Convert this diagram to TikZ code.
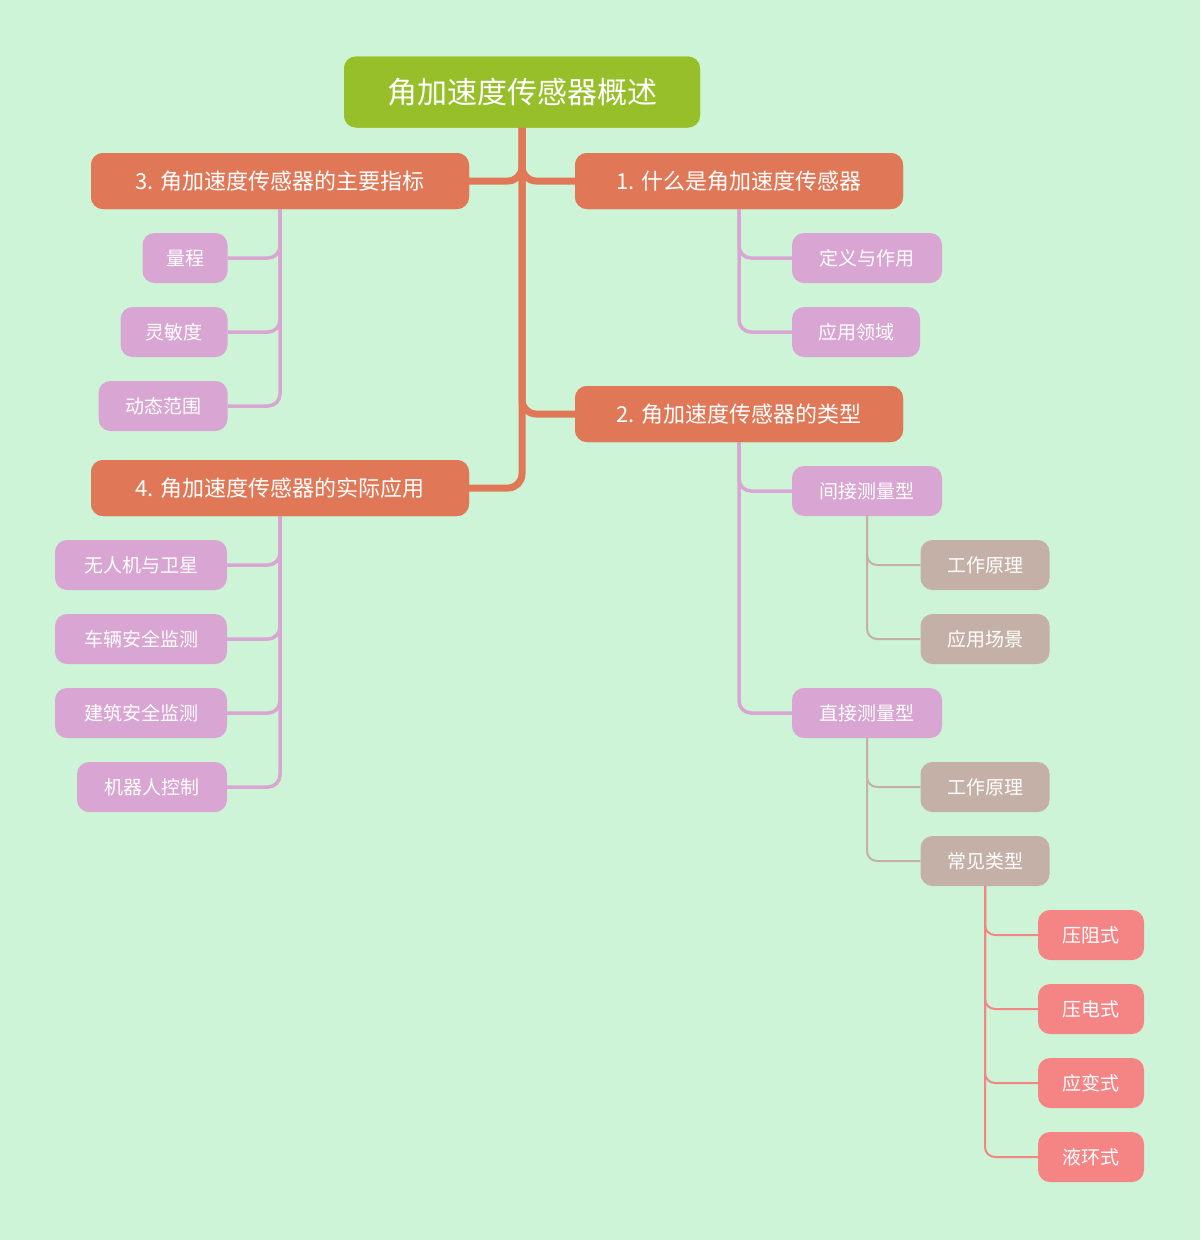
\documentclass[tikz,border=0pt]{standalone}
\usepackage{fontspec}
\setmainfont{Noto Sans CJK SC}
\begin{document}
\begin{tikzpicture}[x=1pt,y=-1pt,
 base/.style={rounded corners=12pt,text=white,inner sep=0pt,anchor=center},
 root/.style={base,fill=rootc,minimum width=356pt,minimum height=71pt,font=\fontsize{30}{32}\selectfont},
 l1/.style={base,fill=l1c,minimum height=56pt,font=\fontsize{22}{24}\selectfont},
 l2/.style={base,fill=l2c,minimum height=50pt,font=\fontsize{19}{21}\selectfont},
 l3/.style={base,fill=l3c,minimum width=129pt,minimum height=50pt,font=\fontsize{19}{21}\selectfont},
 l4/.style={base,fill=l4c,minimum width=106pt,minimum height=50pt,font=\fontsize{19}{21}\selectfont},
 e1/.style={draw=l1c,line width=7pt,rounded corners=14pt},
 e2/.style={draw=l2c,line width=3.5pt,rounded corners=12pt},
 e3/.style={draw=l3c,line width=2pt,rounded corners=10pt},
 e4/.style={draw=l4c,line width=2pt,rounded corners=10pt}]
\definecolor{bg}{HTML}{CDF4D7}
\definecolor{rootc}{HTML}{97BF2A}
\definecolor{l1c}{HTML}{E07858}
\definecolor{l2c}{HTML}{D9A6D3}
\definecolor{l3c}{HTML}{C4B0A6}
\definecolor{l4c}{HTML}{F58585}
\fill[bg] (0,0) rectangle (1200,1240);
\useasboundingbox (0,0) rectangle (1200,1240);
\node[root] (r) at (522,92) {角加速度传感器概述};
\node[l1,minimum width=378pt] (n3) at (280,181) {3. 角加速度传感器的主要指标};
\node[l1,minimum width=328pt] (n1) at (739,181) {1. 什么是角加速度传感器};
\node[l1,minimum width=328pt] (n2) at (739,414) {2. 角加速度传感器的类型};
\node[l1,minimum width=378pt] (n4) at (280,488) {4. 角加速度传感器的实际应用};
\node[l2,minimum width=85pt] (a1) at (185,258) {量程};
\node[l2,minimum width=107pt] (a2) at (174,332) {灵敏度};
\node[l2,minimum width=129pt] (a3) at (163,406) {动态范围};
\node[l2,minimum width=150pt] (b1) at (867,258) {定义与作用};
\node[l2,minimum width=128pt] (b2) at (856,332) {应用领域};
\node[l2,minimum width=150pt] (c1) at (867,491) {间接测量型};
\node[l2,minimum width=150pt] (c2) at (867,713) {直接测量型};
\node[l2,minimum width=172pt] (d1) at (141,565) {无人机与卫星};
\node[l2,minimum width=172pt] (d2) at (141,639) {车辆安全监测};
\node[l2,minimum width=172pt] (d3) at (141,713) {建筑安全监测};
\node[l2,minimum width=150pt] (d4) at (152,787) {机器人控制};
\node[l3] (g1) at (985,565) {工作原理};
\node[l3] (g2) at (985,639) {应用场景};
\node[l3] (g3) at (985,787) {工作原理};
\node[l3] (g4) at (985,861) {常见类型};
\node[l4] (h1) at (1091,935) {压阻式};
\node[l4] (h2) at (1091,1009) {压电式};
\node[l4] (h3) at (1091,1083) {应变式};
\node[l4] (h4) at (1091,1157) {液环式};
\begin{scope}[on background layer/.style={}]
\end{scope}
\path[e1] (r.south) |- (n1.west);
\path[e1] (r.south) |- (n2.west);
\path[e1] (r.south) |- (n3.east);
\path[e1] (r.south) |- (n4.east);
\foreach \c in {a1,a2,a3} \path[e2] (n3.south) |- (\c.east);
\foreach \c in {d1,d2,d3,d4} \path[e2] (n4.south) |- (\c.east);
\foreach \c in {b1,b2} \path[e2] (n1.south) |- (\c.west);
\foreach \c in {c1,c2} \path[e2] (n2.south) |- (\c.west);
\foreach \c in {g1,g2} \path[e3] (c1.south) |- (\c.west);
\foreach \c in {g3,g4} \path[e3] (c2.south) |- (\c.west);
\foreach \c in {h1,h2,h3,h4} \path[e4] (g4.south) |- (\c.west);
\node[root] at (r) {角加速度传感器概述};
\foreach \n/\t/\w in {n3/3. 角加速度传感器的主要指标/378,n4/4. 角加速度传感器的实际应用/378,n1/1. 什么是角加速度传感器/328,n2/2. 角加速度传感器的类型/328}
  \node[l1,minimum width=\w pt] at (\n) {\t};
\end{tikzpicture}
\end{document}
